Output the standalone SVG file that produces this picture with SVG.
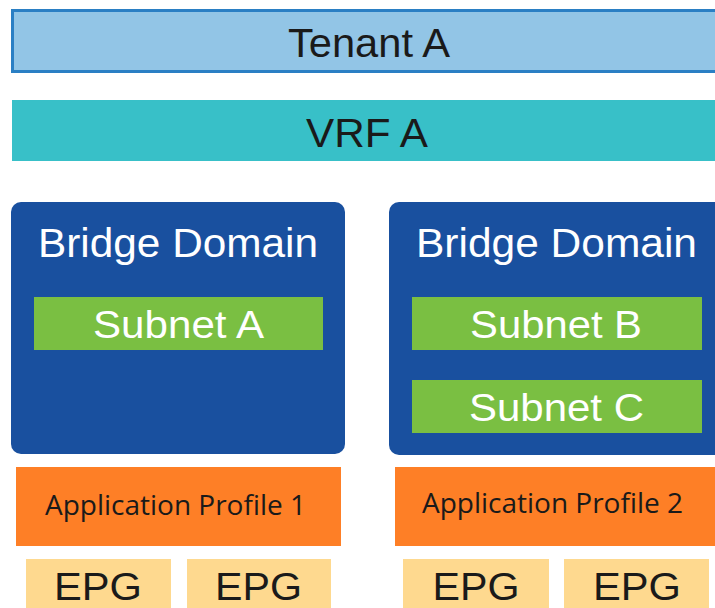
<svg xmlns="http://www.w3.org/2000/svg" width="715" height="608" viewBox="0 0 715 608">
  <style>
    .lbl { font-family: "Liberation Sans", Arial, sans-serif; text-anchor: middle; }
    .dark { fill: #1a1a1a; }
    .white { fill: #ffffff; }
    .ap { font-family: "Open Sans", "Noto Sans", sans-serif; font-size: 28px; fill: #1a1a1a; text-anchor: middle; }
    .bd { fill: #19509f; }
    .subnet { fill: #7abf42; }
    .approf { fill: #fe7f26; }
    .epg { fill: #fed98f; }
  </style>

  <g id="tenant">
    <rect x="12.5" y="10.5" width="710" height="61" fill="#92c5e6" stroke="#2a7fc4" stroke-width="3"/>
    <text class="lbl dark" x="369" y="57" font-size="40" textLength="162" lengthAdjust="spacingAndGlyphs">Tenant A</text>
  </g>

  <g id="vrf">
    <rect x="12" y="100" width="710" height="61" fill="#38c0c8"/>
    <text class="lbl dark" x="367" y="147" font-size="40" textLength="122" lengthAdjust="spacingAndGlyphs">VRF A</text>
  </g>

  <g id="bridge-domain-1">
    <rect class="bd" x="11" y="202" width="334" height="252" rx="10"/>
    <text class="lbl white" x="178" y="257" font-size="40" textLength="280" lengthAdjust="spacingAndGlyphs">Bridge Domain</text>
  </g>

  <g id="subnet-a">
    <rect class="subnet" x="34" y="297" width="289" height="53"/>
    <text class="lbl white" x="178.5" y="338" font-size="39" textLength="171" lengthAdjust="spacingAndGlyphs">Subnet A</text>
  </g>

  <g id="bridge-domain-2">
    <rect class="bd" x="389" y="202" width="340" height="253" rx="10"/>
    <text class="lbl white" x="556.5" y="257" font-size="40" textLength="281" lengthAdjust="spacingAndGlyphs">Bridge Domain</text>
  </g>

  <g id="subnet-b">
    <rect class="subnet" x="412" y="297" width="290" height="53"/>
    <text class="lbl white" x="556" y="338" font-size="39" textLength="172" lengthAdjust="spacingAndGlyphs">Subnet B</text>
  </g>

  <g id="subnet-c">
    <rect class="subnet" x="412" y="380" width="290" height="53"/>
    <text class="lbl white" x="556.5" y="421" font-size="39" textLength="175" lengthAdjust="spacingAndGlyphs">Subnet C</text>
  </g>

  <g id="app-profile-1">
    <rect class="approf" x="16" y="467" width="325" height="79"/>
    <text class="ap" x="175.5" y="515" textLength="261" lengthAdjust="spacingAndGlyphs">Application Profile 1</text>
  </g>

  <g id="app-profile-2">
    <rect class="approf" x="395" y="467" width="330" height="79"/>
    <text class="ap" x="552.5" y="513" textLength="261" lengthAdjust="spacingAndGlyphs">Application Profile 2</text>
  </g>

  <g id="epg-1">
    <rect class="epg" x="26" y="559" width="145" height="60"/>
    <text class="lbl dark" x="98" y="600" font-size="38" textLength="88" lengthAdjust="spacingAndGlyphs">EPG</text>
  </g>
  <g id="epg-2">
    <rect class="epg" x="187" y="559" width="144" height="60"/>
    <text class="lbl dark" x="258.5" y="600" font-size="38" textLength="87" lengthAdjust="spacingAndGlyphs">EPG</text>
  </g>
  <g id="epg-3">
    <rect class="epg" x="403" y="559" width="146" height="60"/>
    <text class="lbl dark" x="476" y="600" font-size="38" textLength="87" lengthAdjust="spacingAndGlyphs">EPG</text>
  </g>
  <g id="epg-4">
    <rect class="epg" x="564" y="559" width="145" height="60"/>
    <text class="lbl dark" x="637" y="600" font-size="38" textLength="88" lengthAdjust="spacingAndGlyphs">EPG</text>
  </g>

  <g id="connectors"/>
</svg>
